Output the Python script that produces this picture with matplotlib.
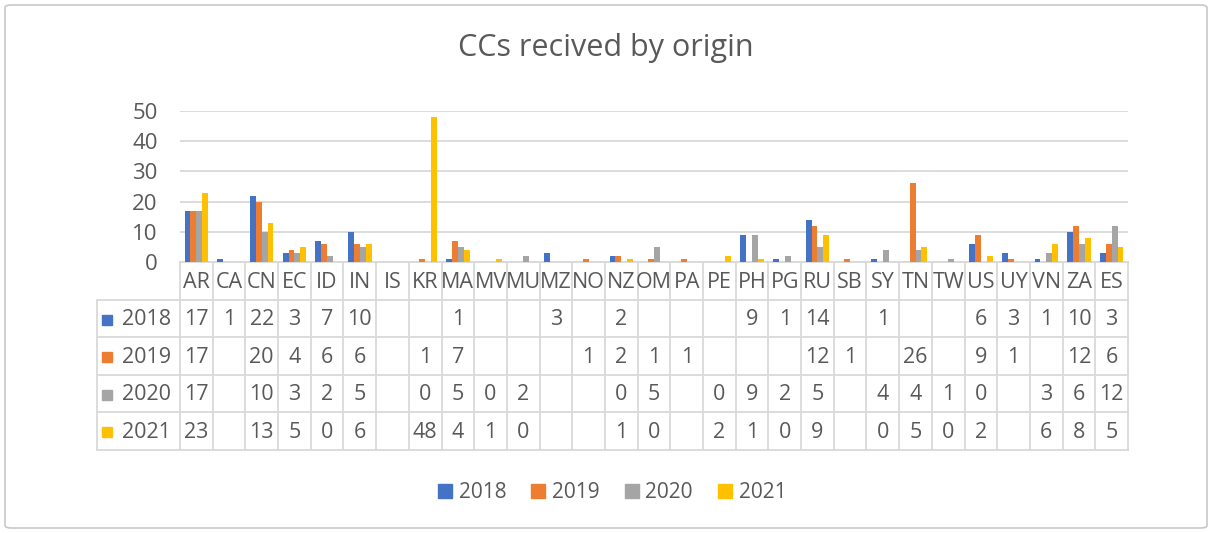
import matplotlib.pyplot as plt
import matplotlib.transforms as mtransforms
from matplotlib.lines import Line2D
from matplotlib.patches import FancyBboxPatch
import numpy as np

# data (None = empty cell)
countries = ['AR', 'CA', 'CN', 'EC', 'ID', 'IN', 'IS', 'KR', 'MA', 'MV', 'MU', 'MZ', 'NO', 'NZ', 'OM',
             'PA', 'PE', 'PH', 'PG', 'RU', 'SB', 'SY', 'TN', 'TW', 'US', 'UY', 'VN', 'ZA', 'ES']
years = ['2018', '2019', '2020', '2021']
v2018 = [17, 1, 22, 3, 7, 10, None, None, 1, None, None, 3, None, 2, None,
         None, None, 9, 1, 14, None, 1, None, None, 6, 3, 1, 10, 3]
v2019 = [17, None, 20, 4, 6, 6, None, 1, 7, None, None, None, 1, 2, 1,
         1, None, None, None, 12, 1, None, 26, None, 9, 1, None, 12, 6]
v2020 = [17, None, 10, 3, 2, 5, None, 0, 5, 0, 2, None, None, 0, 5,
         None, 0, 9, 2, 5, None, 4, 4, 1, 0, None, 3, 6, 12]
v2021 = [23, None, 13, 5, 0, 6, None, 48, 4, 1, 0, None, None, 1, 0,
         None, 2, 1, 0, 9, None, 0, 5, 0, 2, None, 6, 8, 5]
series = [v2018, v2019, v2020, v2021]
colors = ['#4472C4', '#ED7D31', '#A5A5A5', '#FFC000']

txt = '#595959'
grid = '#d9d9d9'
plt.rcParams['font.family'] = ['Open Sans', 'DejaVu Sans']
fs = 15.5

W, H = 1212, 533
fig = plt.figure(figsize=(W / 100, H / 100), dpi=100)

# outer chart frame
fig.patches.append(FancyBboxPatch((5 / W, 5 / H), 1 - 10 / W, 1 - 10 / H,
                                  boxstyle='round,pad=0,rounding_size=0.005',
                                  transform=fig.transFigure, fill=False,
                                  edgecolor='#c8c8c8', lw=1.2))

x0, x1, y0, y1 = 180, 1128, 262, 111
ax = fig.add_axes([x0 / W, 1 - y0 / H, (x1 - x0) / W, (y0 - y1) / H])

x = np.arange(len(countries))
w = 0.18
for k, (vals, c) in enumerate(zip(series, colors)):
    h = [np.nan if v is None else v for v in vals]
    ax.bar(x + (k - 1.5) * w, h, width=w, color=c, zorder=3)

ax.set_xlim(-0.5, len(countries) - 0.5)
ax.set_ylim(0, 50)
ax.set_yticks(range(0, 51, 10))
ax.set_xticks([])
ax.grid(axis='y', color=grid, lw=1.3, zorder=0)
for s in ['top', 'right', 'left']:
    ax.spines[s].set_visible(False)
ax.spines['bottom'].set_color(grid)
ax.spines['bottom'].set_linewidth(1.3)
ax.tick_params(axis='y', length=0, pad=16, labelsize=16, labelcolor=txt)

# data table below the axis
tr = mtransforms.blended_transform_factory(ax.transData, ax.transAxes)
rh = 37.5 / (y0 - y1)
n = len(countries)
left = -0.5 - (x0 - 97) / ((x1 - x0) / n)
lk = dict(color=grid, lw=1.3, transform=tr, clip_on=False)

for i in range(n + 1):
    ax.plot([i - 0.5, i - 0.5], [0, -5 * rh], **lk)
for r in range(1, 6):
    ax.plot([left, n - 0.5], [-r * rh, -r * rh], **lk)
ax.plot([left, left], [-rh, -5 * rh], **lk)

for i, c in enumerate(countries):
    ax.text(i, -rh / 2 - 0.01, c, ha='center', va='center', fontsize=fs, color=txt,
            transform=tr, clip_on=False)
for r, (yr, vals, c) in enumerate(zip(years, series, colors)):
    yc = -(r + 1.5) * rh - 0.01
    ax.plot([left + 0.32], [yc], marker='s', ms=7.5, color=c, transform=tr, clip_on=False)
    ax.text(left + 0.75, yc, yr, ha='left', va='center', fontsize=fs, color=txt,
            transform=tr, clip_on=False)
    for i, v in enumerate(vals):
        if v is not None:
            ax.text(i, yc, str(v), ha='center', va='center', fontsize=fs, color=txt,
                    transform=tr, clip_on=False)

fig.text(0.5, 1 - 48 / H, 'CCs recived by origin', ha='center', va='center',
         fontsize=22, color=txt)

handles = [Line2D([], [], marker='s', ls='', ms=10, color=c) for c in colors]
fig.legend(handles, years, loc='center', bbox_to_anchor=(0.505, 1 - 493 / H), ncol=4,
           frameon=False, fontsize=15, handlelength=0.7, handletextpad=0.3,
           columnspacing=1.2, labelcolor=txt)

fig.savefig('out.png', dpi=100)
